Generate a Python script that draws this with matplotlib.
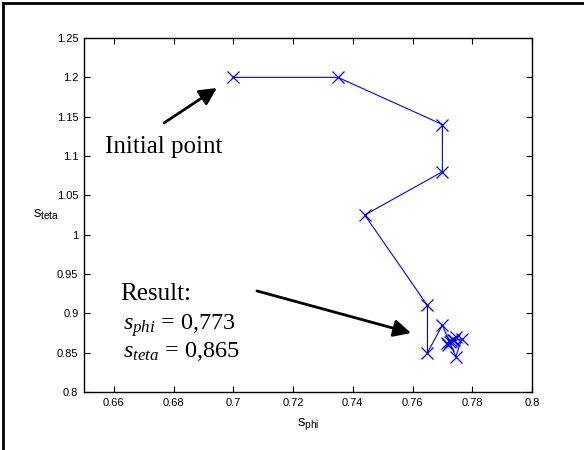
import matplotlib
matplotlib.use("Agg")
import matplotlib.pyplot as plt
from matplotlib.lines import Line2D

# iterates of (s_phi, s_teta)
s_phi = [0.700, 0.735, 0.770, 0.770, 0.744, 0.765, 0.765, 0.770, 0.7745,
         0.7765, 0.7715, 0.7745, 0.7720, 0.7740, 0.7725, 0.7735, 0.7730]
s_teta = [1.200, 1.200, 1.140, 1.080, 1.025, 0.910, 0.850, 0.885, 0.845,
          0.868, 0.862, 0.870, 0.860, 0.866, 0.863, 0.866, 0.865]

xticks = [0.66, 0.68, 0.70, 0.72, 0.74, 0.76, 0.78, 0.80]
xticklabels = ["0.66", "0.68", "0.7", "0.72", "0.74", "0.76", "0.78", "0.8"]
yticks = [0.80, 0.85, 0.90, 0.95, 1.00, 1.05, 1.10, 1.15, 1.20, 1.25]
yticklabels = ["0.8", "0.85", "0.9", "0.95", "1", "1.05", "1.1", "1.15", "1.2", "1.25"]

plt.rcParams['font.family'] = ['Liberation Sans', 'DejaVu Sans']
plt.rcParams['mathtext.fontset'] = 'custom'
plt.rcParams['mathtext.rm'] = 'Liberation Serif'
plt.rcParams['mathtext.it'] = 'Liberation Serif:italic'
plt.rcParams['mathtext.sf'] = 'Liberation Sans'

fig = plt.figure(figsize=(5.84, 4.5), dpi=100)
ax = fig.add_axes([84/584, 1 - 392/450, 448/584, 354/450])

ax.plot(s_phi, s_teta, color=(0, 0, 1), lw=0.8, marker='x', ms=8, mew=0.9)

ax.set_xlim(0.65, 0.80)
ax.set_ylim(0.80, 1.25)
ax.set_xticks(xticks)
ax.set_xticklabels(xticklabels)
ax.set_yticks(yticks)
ax.set_yticklabels(yticklabels)
ax.tick_params(direction='in', top=True, right=True, length=4, width=0.8,
               labelsize=8, pad=4)
for sp in ax.spines.values():
    sp.set_linewidth(1.0)

ax.set_xlabel(r"s$_{\mathsf{phi}}$", fontsize=10.5, labelpad=6)
ax.set_ylabel(r"s$_{\mathsf{teta}}$", fontsize=10.5, rotation=0, labelpad=12)
ax.yaxis.set_label_coords(-0.085, 0.48)

serif = ['Liberation Serif', 'DejaVu Serif']
arrow = dict(arrowstyle='-|>', lw=2, color='k', mutation_scale=26,
             shrinkA=0, shrinkB=0)
ax.annotate("", xy=(0.6945, 1.1865), xytext=(0.6768, 1.142), arrowprops=arrow)
ax.text(0.657, 1.104, "Initial point", family=serif, fontsize=18)

ax.annotate("", xy=(0.7595, 0.875), xytext=(0.7079, 0.9285), arrowprops=arrow)
ax.text(0.662, 0.917, "Result:", family=serif, fontsize=18)
ax.text(0.663, 0.879, r"$s_{phi}$ = 0,773", family=serif, fontsize=17.5)
ax.text(0.663, 0.845, r"$s_{teta}$ = 0,865", family=serif, fontsize=17.5)

# outer frame (left and top edges)
fig.add_artist(Line2D([3/584, 3/584], [0, 1 - 3/450], color='k', lw=2,
                      transform=fig.transFigure))
fig.add_artist(Line2D([3/584, 1], [1 - 3/450, 1 - 3/450], color='k', lw=2,
                      transform=fig.transFigure))

fig.savefig("out.png", dpi=100)
